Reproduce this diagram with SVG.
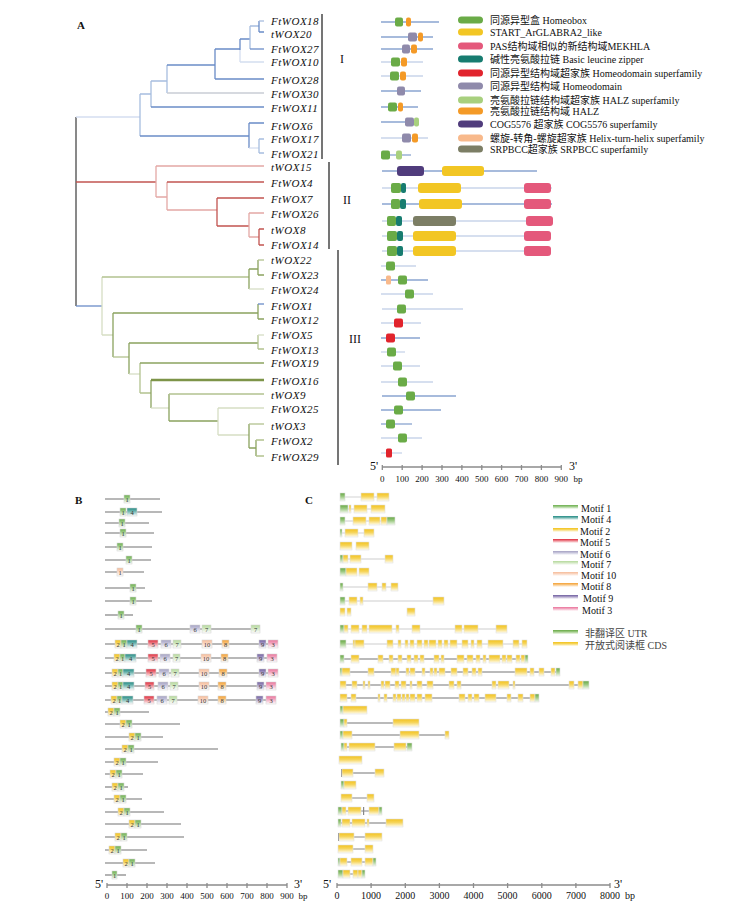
<svg xmlns="http://www.w3.org/2000/svg" width="755" height="914" viewBox="0 0 755 914">
<defs>
<style>
text{font-family:"Liberation Serif","Noto Sans CJK SC",serif;fill:#111}
.lf{font-style:italic;font-size:11px;letter-spacing:0.5px}
.cl{font-size:12px}
.pl{font-size:11px;font-weight:bold}
.lg{font-size:10px}
.tk{font-size:9px;text-anchor:middle}
.tkc{font-size:10px;text-anchor:middle}
.pr{font-size:12px}
.mn{font-size:6.5px;text-anchor:middle;fill:#333}
#tree path{fill:none;stroke-width:1.3}
.b1{stroke:#6a8cc7}.b2{stroke:#a7bddf}.b3{stroke:#d4def0}.gy{stroke:#c9ccd4}
.r1{stroke:#c25450}.r2{stroke:#e4a8a5}
.g0{stroke:#7d9448;stroke-width:2.4!important}.g1{stroke:#8ba35f}.g2{stroke:#b2c28f}.g3{stroke:#d6dec4}
.k{stroke:#4a4a4a}
.bar{stroke:#666;stroke-width:1.8;fill:none}
.dl{stroke:#8aa4d0;stroke-width:1.3}.dll{stroke:#c8d4ea;stroke-width:1.3}
.hb{fill:#6aab47}.st{fill:#f2c624}.pas{fill:#e4587b}.bz{fill:#177c70}.hds{fill:#e1242d}.hd{fill:#8f8aab}
.hzs{fill:#a8d07e}.hz{fill:#f49a27}.cog{fill:#503c7c}.hth{fill:#f8b98b}.srp{fill:#7c7e65}
.ax{stroke:#8c8c8c;stroke-width:1.3;fill:none}
.bl{stroke:#a0a0a0;stroke-width:1.6}
.il{stroke:#a3a3a3;stroke-width:1.3}.ill{stroke:#dedede;stroke-width:1.3}
.mb{stroke:#d8d8d8;stroke-width:0.6}
.ex{fill:url(#gy);stroke:#e2e2e2;stroke-width:0.6}
.ut{fill:url(#gg);stroke:#e2e2e2;stroke-width:0.6}
</style>
<linearGradient id="gy" x1="0" y1="0" x2="0" y2="1"><stop offset="0" stop-color="#f3c21c"/><stop offset="0.45" stop-color="#f6d55c"/><stop offset="1" stop-color="#fffdf2"/></linearGradient>
<linearGradient id="gg" x1="0" y1="0" x2="0" y2="1"><stop offset="0" stop-color="#66a844"/><stop offset="0.45" stop-color="#9cc982"/><stop offset="1" stop-color="#f4faf0"/></linearGradient>
<linearGradient id="m1" x1="0" y1="0" x2="0" y2="1"><stop offset="0" stop-color="#6cae4e"/><stop offset="0.4" stop-color="#9ccb86"/><stop offset="1" stop-color="#fff"/></linearGradient>
<linearGradient id="m2" x1="0" y1="0" x2="0" y2="1"><stop offset="0" stop-color="#f3c21c"/><stop offset="0.4" stop-color="#f6d55c"/><stop offset="1" stop-color="#fff"/></linearGradient>
<linearGradient id="m3" x1="0" y1="0" x2="0" y2="1"><stop offset="0" stop-color="#e9729a"/><stop offset="0.4" stop-color="#f2a5bf"/><stop offset="1" stop-color="#fff"/></linearGradient>
<linearGradient id="m4" x1="0" y1="0" x2="0" y2="1"><stop offset="0" stop-color="#228a84"/><stop offset="0.4" stop-color="#6cb3ad"/><stop offset="1" stop-color="#fff"/></linearGradient>
<linearGradient id="m5" x1="0" y1="0" x2="0" y2="1"><stop offset="0" stop-color="#df2b3b"/><stop offset="0.4" stop-color="#ec7c86"/><stop offset="1" stop-color="#fff"/></linearGradient>
<linearGradient id="m6" x1="0" y1="0" x2="0" y2="1"><stop offset="0" stop-color="#a4a1c2"/><stop offset="0.4" stop-color="#c4c2da"/><stop offset="1" stop-color="#fff"/></linearGradient>
<linearGradient id="m7" x1="0" y1="0" x2="0" y2="1"><stop offset="0" stop-color="#b4d99a"/><stop offset="0.4" stop-color="#cfe6bf"/><stop offset="1" stop-color="#fff"/></linearGradient>
<linearGradient id="m8" x1="0" y1="0" x2="0" y2="1"><stop offset="0" stop-color="#f4a032"/><stop offset="0.4" stop-color="#f8c27a"/><stop offset="1" stop-color="#fff"/></linearGradient>
<linearGradient id="m9" x1="0" y1="0" x2="0" y2="1"><stop offset="0" stop-color="#6e5e9e"/><stop offset="0.4" stop-color="#a598c4"/><stop offset="1" stop-color="#fff"/></linearGradient>
<linearGradient id="m10" x1="0" y1="0" x2="0" y2="1"><stop offset="0" stop-color="#f6bb98"/><stop offset="0.4" stop-color="#f9d3bd"/><stop offset="1" stop-color="#fff"/></linearGradient>
</defs>
<rect width="755" height="914" fill="#fff"/>

<!-- Panel labels -->
<text class="pl" x="77" y="29">A</text>
<text class="pl" x="75" y="504">B</text>
<text class="pl" x="305" y="504">C</text>

<!-- Tree connectors -->
<g id="tree">
<path class="k" d="M76 117V306"/>
<path class="b3" d="M76 117H140"/>
<path class="b2" d="M140 94V136M140 94H151"/>
<path class="b1" d="M140 136H249"/>
<path class="b2" d="M151 81V107M151 81H167"/>
<path class="b1" d="M151 107H264"/>
<path class="b2" d="M167 65V93"/>
<path class="b1" d="M167 65H215"/>
<path class="gy" d="M167 93H264"/>
<path class="b1" d="M215 49V79M215 49H240M215 79H264"/>
<path class="b1" d="M240 39V50M240 39H250"/>
<path class="b3" d="M240 50V62M240 62H264"/>
<path class="b2" d="M250 26V49M250 26H259"/>
<path class="b1" d="M250 49H264"/>
<path class="b1" d="M259 21V32M259 32H264"/>
<path class="b2" d="M259 21H264"/>
<path class="b1" d="M249 123V148M249 123H264"/>
<path class="b3" d="M249 148H259"/>
<path class="b2" d="M259 139V153M259 139H264M259 153H264"/>
<path class="r1" d="M76 182H156"/>
<path class="r2" d="M156 166V197M156 166H264M156 197H167"/>
<path class="r2" d="M167 182V210M167 210H217"/>
<path class="r1" d="M167 182H264"/>
<path class="r1" d="M217 198V226M217 198H264M217 226H249"/>
<path class="r2" d="M249 213V237M249 213H264M249 237H259"/>
<path class="r1" d="M259 229V245M259 229H264M259 245H264"/>
<path class="b1" d="M76 306H102"/>
<path class="g3" d="M102 277V335M102 335H113"/>
<path class="g2" d="M102 277H249"/>
<path class="g1" d="M249 269V289M249 269H258"/>
<path class="g3" d="M249 289H264"/>
<path class="g1" d="M258 260V275M258 275H264"/>
<path class="g2" d="M258 260H264"/>
<path class="g1" d="M113 313V357M113 313H258"/>
<path class="g2" d="M113 357H129"/>
<path class="g1" d="M258 304V319M258 319H264"/>
<path class="b1" d="M258 304H264"/>
<path class="g1" d="M129 343V374M129 343H258"/>
<path class="g3" d="M129 374H140"/>
<path class="g2" d="M258 335V349M258 349H264"/>
<path class="g3" d="M258 335H264"/>
<path class="g2" d="M140 363V393M140 393H151"/>
<path class="g1" d="M140 363H264"/>
<path class="g1" d="M151 380V408"/>
<path class="g0" d="M151 380H264"/>
<path class="g3" d="M151 408H169"/>
<path class="g1" d="M169 394V421M169 421H218"/>
<path class="g2" d="M169 394H264"/>
<path class="g3" d="M218 408V435M218 408H264M218 435H249"/>
<path class="g1" d="M249 424V448M249 448H256"/>
<path class="g2" d="M249 424H264"/>
<path class="g1" d="M256 440V456"/>
<path class="g2" d="M256 440H264M256 456H264"/>
</g>

<!-- Leaves -->
<g id="leaves">
<g id="leaf-FtWOX18"><text class="lf" x="271" y="25">FtWOX18</text></g>
<g id="leaf-tWOX20"><text class="lf" x="271" y="37.5">tWOX20</text></g>
<g id="leaf-FtWOX27"><text class="lf" x="271" y="53">FtWOX27</text></g>
<g id="leaf-FtWOX10"><text class="lf" x="271" y="66">FtWOX10</text></g>
<g id="leaf-FtWOX28"><text class="lf" x="271" y="84">FtWOX28</text></g>
<g id="leaf-FtWOX30"><text class="lf" x="271" y="98">FtWOX30</text></g>
<g id="leaf-FtWOX11"><text class="lf" x="271" y="112">FtWOX11</text></g>
<g id="leaf-FtWOX6"><text class="lf" x="271" y="130">FtWOX6</text></g>
<g id="leaf-FtWOX17"><text class="lf" x="271" y="143">FtWOX17</text></g>
<g id="leaf-FtWOX21"><text class="lf" x="271" y="158">FtWOX21</text></g>
<g id="leaf-tWOX15"><text class="lf" x="271" y="171">tWOX15</text></g>
<g id="leaf-FtWOX4"><text class="lf" x="271" y="187">FtWOX4</text></g>
<g id="leaf-FtWOX7"><text class="lf" x="271" y="203">FtWOX7</text></g>
<g id="leaf-FtWOX26"><text class="lf" x="271" y="218">FtWOX26</text></g>
<g id="leaf-tWOX8"><text class="lf" x="271" y="234">tWOX8</text></g>
<g id="leaf-FtWOX14"><text class="lf" x="271" y="249">FtWOX14</text></g>
<g id="leaf-tWOX22"><text class="lf" x="271" y="264">tWOX22</text></g>
<g id="leaf-FtWOX23"><text class="lf" x="271" y="279">FtWOX23</text></g>
<g id="leaf-FtWOX24"><text class="lf" x="271" y="294">FtWOX24</text></g>
<g id="leaf-FtWOX1"><text class="lf" x="271" y="310">FtWOX1</text></g>
<g id="leaf-FtWOX12"><text class="lf" x="271" y="324">FtWOX12</text></g>
<g id="leaf-FtWOX5"><text class="lf" x="271" y="339">FtWOX5</text></g>
<g id="leaf-FtWOX13"><text class="lf" x="271" y="354">FtWOX13</text></g>
<g id="leaf-FtWOX19"><text class="lf" x="271" y="367">FtWOX19</text></g>
<g id="leaf-FtWOX16"><text class="lf" x="271" y="385">FtWOX16</text></g>
<g id="leaf-tWOX9"><text class="lf" x="271" y="399">tWOX9</text></g>
<g id="leaf-FtWOX25"><text class="lf" x="271" y="413">FtWOX25</text></g>
<g id="leaf-tWOX3"><text class="lf" x="271" y="430">tWOX3</text></g>
<g id="leaf-FtWOX2"><text class="lf" x="271" y="445">FtWOX2</text></g>
<g id="leaf-FtWOX29"><text class="lf" x="271" y="461">FtWOX29</text></g>
</g>

<!-- Clade bars -->
<g id="clades">
<path class="bar" d="M322 14V159"/><text class="cl" x="342" y="63" text-anchor="middle">I</text>
<path class="bar" d="M329 162V249"/><text class="cl" x="347" y="204" text-anchor="middle">II</text>
<path class="bar" d="M338 250V465"/><text class="cl" x="355" y="343" text-anchor="middle">III</text>
</g>

<!-- Domain panel -->
<g id="domains">
<g id="dom-1"><path class="dl" d="M381 22H439"/><rect class="hb" x="395" y="17.5" width="8" height="9" rx="2"/><rect class="hz" x="406" y="17.5" width="5" height="9" rx="2"/></g>
<g id="dom-2"><path class="dl" d="M381 37H433"/><rect class="hd" x="408" y="32.5" width="9" height="9" rx="2"/><rect class="hz" x="418" y="32.5" width="5" height="9" rx="2"/></g>
<g id="dom-3"><path class="dl" d="M381 49H433"/><rect class="hd" x="402" y="44.5" width="8" height="9" rx="2"/><rect class="hz" x="411" y="44.5" width="6" height="9" rx="2"/></g>
<g id="dom-4"><path class="dll" d="M381 62H423"/><rect class="hb" x="391" y="57.5" width="9" height="9" rx="2"/><rect class="hz" x="401" y="57.5" width="6" height="9" rx="2"/></g>
<g id="dom-5"><path class="dll" d="M381 76H423"/><rect class="hb" x="390" y="71.5" width="9" height="9" rx="2"/><rect class="hz" x="400" y="71.5" width="6" height="9" rx="2"/></g>
<g id="dom-6"><path class="dl" d="M381 91H421"/><rect class="hd" x="397" y="86.5" width="8" height="9" rx="2"/></g>
<g id="dom-7"><path class="dl" d="M381 107H418"/><rect class="hb" x="388" y="102.5" width="9" height="9" rx="2"/><rect class="hz" x="398" y="102.5" width="5" height="9" rx="2"/></g>
<g id="dom-8"><path class="dl" d="M381 122H419"/><rect class="hd" x="405" y="117.5" width="9" height="9" rx="2"/><rect class="hzs" x="414" y="117.5" width="5" height="9" rx="2"/></g>
<g id="dom-9"><path class="dll" d="M381 138H428"/><rect class="hd" x="402" y="133.5" width="9" height="9" rx="2"/><rect class="hz" x="412" y="133.5" width="6" height="9" rx="2"/></g>
<g id="dom-10"><path class="dl" d="M381 155H411"/><rect class="hb" x="381" y="150.5" width="9" height="9" rx="2"/><rect class="hzs" x="396" y="150.5" width="6" height="9" rx="2"/></g>
<g id="dom-11"><path class="dl" d="M382 171H537"/><rect class="cog" x="397" y="166" width="27" height="10" rx="3"/><rect class="st" x="442" y="166" width="42" height="10" rx="3"/></g>
<g id="dom-12"><path class="dll" d="M382 188H552"/><rect class="hb" x="391" y="183" width="10" height="10" rx="2"/><rect class="bz" x="401" y="183" width="5" height="10" rx="2"/><rect class="st" x="418" y="183" width="43" height="10" rx="3"/><rect class="pas" x="524" y="183" width="27" height="10" rx="3"/></g>
<g id="dom-13"><path class="dl" d="M382 204H552"/><rect class="hb" x="391" y="199" width="9" height="10" rx="2"/><rect class="bz" x="400" y="199" width="6" height="10" rx="2"/><rect class="st" x="419" y="199" width="43" height="10" rx="3"/><rect class="pas" x="524" y="199" width="27" height="10" rx="3"/></g>
<g id="dom-14"><path class="dll" d="M382 221H553"/><rect class="hb" x="387" y="216" width="9" height="10" rx="2"/><rect class="bz" x="396" y="216" width="6" height="10" rx="2"/><rect class="srp" x="413" y="216" width="43" height="10" rx="3"/><rect class="pas" x="526" y="216" width="27" height="10" rx="3"/></g>
<g id="dom-15"><path class="dll" d="M382 236H551"/><rect class="hb" x="387" y="231" width="10" height="10" rx="2"/><rect class="bz" x="397" y="231" width="6" height="10" rx="2"/><rect class="st" x="413" y="231" width="43" height="10" rx="3"/><rect class="pas" x="524" y="231" width="27" height="10" rx="3"/></g>
<g id="dom-16"><path class="dll" d="M382 251H551"/><rect class="hb" x="387" y="246" width="10" height="10" rx="2"/><rect class="bz" x="397" y="246" width="6" height="10" rx="2"/><rect class="st" x="413" y="246" width="43" height="10" rx="3"/><rect class="pas" x="524" y="246" width="27" height="10" rx="3"/></g>
<g id="dom-17"><path class="dll" d="M381 266H416"/><rect class="hb" x="386" y="261.5" width="9" height="9" rx="2"/></g>
<g id="dom-18"><path class="dl" d="M381 280H428"/><rect class="hth" x="386" y="275.5" width="5" height="9" rx="1.5"/><rect class="hb" x="398" y="275.5" width="9" height="9" rx="2"/></g>
<g id="dom-19"><path class="dll" d="M381 294H433"/><rect class="hb" x="405" y="289.5" width="9" height="9" rx="2"/></g>
<g id="dom-20"><path class="dll" d="M382 309H463"/><rect class="hb" x="397" y="304.5" width="9" height="9" rx="2"/></g>
<g id="dom-21"><path class="dll" d="M381 323H421"/><rect class="hds" x="394" y="318.5" width="9" height="9" rx="2"/></g>
<g id="dom-22"><path class="dl" d="M381 338H420"/><rect class="hds" x="386" y="333.5" width="9" height="9" rx="2"/></g>
<g id="dom-23"><path class="dll" d="M381 352H405"/><rect class="hb" x="387" y="347.5" width="9" height="9" rx="2"/></g>
<g id="dom-24"><path class="dll" d="M381 366H420"/><rect class="hb" x="393" y="361.5" width="9" height="9" rx="2"/></g>
<g id="dom-25"><path class="dll" d="M381 382H433"/><rect class="hb" x="398" y="377.5" width="9" height="9" rx="2"/></g>
<g id="dom-26"><path class="dl" d="M382 396H456"/><rect class="hb" x="406" y="391.5" width="9" height="9" rx="2"/></g>
<g id="dom-27"><path class="dl" d="M381 410H441"/><rect class="hb" x="394" y="405.5" width="9" height="9" rx="2"/></g>
<g id="dom-28"><path class="dl" d="M381 424H412"/><rect class="hb" x="386" y="419.5" width="9" height="9" rx="2"/></g>
<g id="dom-29"><path class="dll" d="M381 438H422"/><rect class="hb" x="398" y="433.5" width="9" height="9" rx="2"/></g>
<g id="dom-30"><path class="dll" d="M381 453H402"/><rect class="hds" x="386" y="448.5" width="6" height="9" rx="1.5"/></g>
</g>

<!-- Axis A -->
<g id="axis-a">
<path class="ax" d="M382 467H561M382.3 465V470M402.2 465V470M422.1 465V470M442 465V470M461.9 465V470M481.8 465V470M501.6 465V470M521.5 465V470M541.4 465V470M561.3 465V470"/>
<text class="pr" x="370" y="470">5'</text><text class="pr" x="569" y="470">3'</text>
<text class="tk" x="382.3" y="482">0</text><text class="tk" x="402.2" y="482">100</text><text class="tk" x="422.1" y="482">200</text><text class="tk" x="442" y="482">300</text><text class="tk" x="461.9" y="482">400</text><text class="tk" x="481.8" y="482">500</text><text class="tk" x="501.6" y="482">600</text><text class="tk" x="521.5" y="482">700</text><text class="tk" x="541.4" y="482">800</text><text class="tk" x="561.3" y="482">900</text><text class="tk" x="578" y="482">bp</text>
</g>

<!-- Legend A -->
<g id="legend-a" class="lg">
<g id="lga-1"><rect class="hb" x="458" y="16.5" width="25" height="7" rx="3.5"/><text class="lg" x="490" y="23.5">同源异型盒 Homeobox</text></g>
<g id="lga-2"><rect class="st" x="458" y="28.5" width="25" height="7" rx="3.5"/><text class="lg" x="490" y="35.5">START_ArGLABRA2_like</text></g>
<g id="lga-3"><rect class="pas" x="458" y="42.5" width="25" height="7" rx="3.5"/><text class="lg" x="490" y="49.5">PAS结构域相似的新结构域MEKHLA</text></g>
<g id="lga-4"><rect class="bz" x="458" y="55.5" width="25" height="7" rx="3.5"/><text class="lg" x="490" y="62.5">碱性亮氨酸拉链 Basic leucine zipper</text></g>
<g id="lga-5"><rect class="hds" x="458" y="69.5" width="25" height="7" rx="3.5"/><text class="lg" x="490" y="76.5">同源异型结构域超家族 Homeodomain superfamily</text></g>
<g id="lga-6"><rect class="hd" x="458" y="82.5" width="25" height="7" rx="3.5"/><text class="lg" x="490" y="89.5">同源异型结构域 Homeodomain</text></g>
<g id="lga-7"><rect class="hzs" x="458" y="96.5" width="25" height="7" rx="3.5"/><text class="lg" x="490" y="103.5">亮氨酸拉链结构域超家族 HALZ superfamily</text></g>
<g id="lga-8"><rect class="hz" x="458" y="107.5" width="25" height="7" rx="3.5"/><text class="lg" x="490" y="114.5">亮氨酸拉链结构域 HALZ</text></g>
<g id="lga-9"><rect class="cog" x="458" y="120.5" width="25" height="7" rx="3.5"/><text class="lg" x="490" y="127.5">COG5576 超家族 COG5576 superfamily</text></g>
<g id="lga-10"><rect class="hth" x="458" y="134.5" width="25" height="7" rx="3.5"/><text class="lg" x="490" y="141.5">螺旋-转角-螺旋超家族 Helix-turn-helix superfamily</text></g>
<g id="lga-11"><rect class="srp" x="458" y="145.5" width="25" height="7" rx="3.5"/><text class="lg" x="490" y="152.5">SRPBCC超家族 SRPBCC superfamily</text></g>
</g>

<!-- Panel B: motifs -->
<g id="motifs">
<g id="mot-1"><path class="bl" d="M105 499H160"/><rect class="mb" x="124" y="495" width="6" height="8" fill="url(#m1)"/><text class="mn" x="127" y="501.5">1</text></g>
<g id="mot-2"><path class="bl" d="M105 512H162"/><rect class="mb" x="120" y="508" width="6" height="8" fill="url(#m1)"/><text class="mn" x="123" y="514.5">1</text><rect class="mb" x="127" y="508" width="10" height="8" fill="url(#m4)"/><text class="mn" x="132" y="514.5">4</text></g>
<g id="mot-3"><path class="bl" d="M105 523H149"/><rect class="mb" x="119" y="519" width="6" height="8" fill="url(#m1)"/><text class="mn" x="122" y="525.5">1</text></g>
<g id="mot-4"><path class="bl" d="M105 533H154"/><rect class="mb" x="120" y="529" width="6" height="8" fill="url(#m1)"/><text class="mn" x="123" y="535.5">1</text></g>
<g id="mot-5"><path class="bl" d="M105 547H152"/><rect class="mb" x="117" y="543" width="6" height="8" fill="url(#m1)"/><text class="mn" x="120" y="549.5">1</text></g>
<g id="mot-6"><path class="bl" d="M105 560H151"/><rect class="mb" x="126" y="556" width="6" height="8" fill="url(#m1)"/><text class="mn" x="129" y="562.5">1</text></g>
<g id="mot-7"><path class="bl" d="M105 572H144"/><rect class="mb" x="117" y="568" width="6" height="8" fill="url(#m10)"/><text class="mn" x="120" y="574.5">1</text></g>
<g id="mot-8"><path class="bl" d="M105 588H145"/><rect class="mb" x="130" y="584" width="6" height="8" fill="url(#m1)"/><text class="mn" x="133" y="590.5">1</text></g>
<g id="mot-9"><path class="bl" d="M105 601H152"/><rect class="mb" x="130" y="597" width="6" height="8" fill="url(#m1)"/><text class="mn" x="133" y="603.5">1</text></g>
<g id="mot-10"><path class="bl" d="M105 615H133"/><rect class="mb" x="118" y="611" width="6" height="8" fill="url(#m1)"/><text class="mn" x="121" y="617.5">1</text></g>
<g id="mot-11"><path class="bl" d="M105 629H260"/><rect class="mb" x="136" y="625" width="6" height="8" fill="url(#m1)"/><text class="mn" x="139" y="631.5">1</text><rect class="mb" x="190" y="625" width="10" height="8" fill="url(#m6)"/><text class="mn" x="195" y="631.5">6</text><rect class="mb" x="202" y="625" width="9" height="8" fill="url(#m7)"/><text class="mn" x="206.5" y="631.5">7</text><rect class="mb" x="251" y="625" width="9" height="8" fill="url(#m7)"/><text class="mn" x="255.5" y="631.5">7</text></g>
<g id="mot-12"><path class="bl" d="M105 644H278"/>
<rect class="mb" x="115" y="640" width="6" height="8" fill="url(#m2)"/><text class="mn" x="118" y="646.5">2</text>
<rect class="mb" x="121" y="640" width="6" height="8" fill="url(#m1)"/><text class="mn" x="124" y="646.5">1</text>
<rect class="mb" x="127" y="640" width="10" height="8" fill="url(#m4)"/><text class="mn" x="132" y="646.5">4</text>
<rect class="mb" x="148" y="640" width="10" height="8" fill="url(#m5)"/><text class="mn" x="153" y="646.5">5</text>
<rect class="mb" x="161" y="640" width="10" height="8" fill="url(#m6)"/><text class="mn" x="166" y="646.5">6</text>
<rect class="mb" x="173" y="640" width="8" height="8" fill="url(#m7)"/><text class="mn" x="177" y="646.5">7</text>
<rect class="mb" x="202" y="640" width="10" height="8" fill="url(#m10)"/><text class="mn" x="207" y="646.5">10</text>
<rect class="mb" x="222" y="640" width="7" height="8" fill="url(#m8)"/><text class="mn" x="225.5" y="646.5">8</text>
<rect class="mb" x="259" y="640" width="7" height="8" fill="url(#m9)"/><text class="mn" x="262.5" y="646.5">9</text>
<rect class="mb" x="268" y="640" width="10" height="8" fill="url(#m3)"/><text class="mn" x="273" y="646.5">3</text></g>
<g id="mot-13"><path class="bl" d="M105 658H277"/>
<rect class="mb" x="114" y="654" width="6" height="8" fill="url(#m2)"/><text class="mn" x="117" y="660.5">2</text>
<rect class="mb" x="120" y="654" width="5" height="8" fill="url(#m1)"/><text class="mn" x="122.5" y="660.5">1</text>
<rect class="mb" x="125" y="654" width="11" height="8" fill="url(#m4)"/><text class="mn" x="130.5" y="660.5">4</text>
<rect class="mb" x="148" y="654" width="10" height="8" fill="url(#m5)"/><text class="mn" x="153" y="660.5">5</text>
<rect class="mb" x="160" y="654" width="10" height="8" fill="url(#m6)"/><text class="mn" x="165" y="660.5">6</text>
<rect class="mb" x="173" y="654" width="7" height="8" fill="url(#m7)"/><text class="mn" x="176.5" y="660.5">7</text>
<rect class="mb" x="201" y="654" width="10" height="8" fill="url(#m10)"/><text class="mn" x="206" y="660.5">10</text>
<rect class="mb" x="221" y="654" width="7" height="8" fill="url(#m8)"/><text class="mn" x="224.5" y="660.5">8</text>
<rect class="mb" x="257" y="654" width="7" height="8" fill="url(#m9)"/><text class="mn" x="260.5" y="660.5">9</text>
<rect class="mb" x="267" y="654" width="10" height="8" fill="url(#m3)"/><text class="mn" x="272" y="660.5">3</text></g>
<g id="mot-14"><path class="bl" d="M105 673H278"/>
<rect class="mb" x="112" y="669" width="6" height="8" fill="url(#m2)"/><text class="mn" x="115" y="675.5">2</text>
<rect class="mb" x="118" y="669" width="5" height="8" fill="url(#m1)"/><text class="mn" x="120.5" y="675.5">1</text>
<rect class="mb" x="123" y="669" width="11" height="8" fill="url(#m4)"/><text class="mn" x="128.5" y="675.5">4</text>
<rect class="mb" x="146" y="669" width="10" height="8" fill="url(#m5)"/><text class="mn" x="151" y="675.5">5</text>
<rect class="mb" x="159" y="669" width="10" height="8" fill="url(#m6)"/><text class="mn" x="164" y="675.5">6</text>
<rect class="mb" x="171" y="669" width="8" height="8" fill="url(#m7)"/><text class="mn" x="175" y="675.5">7</text>
<rect class="mb" x="199" y="669" width="10" height="8" fill="url(#m10)"/><text class="mn" x="204" y="675.5">10</text>
<rect class="mb" x="219" y="669" width="8" height="8" fill="url(#m8)"/><text class="mn" x="223" y="675.5">8</text>
<rect class="mb" x="259" y="669" width="7" height="8" fill="url(#m9)"/><text class="mn" x="262.5" y="675.5">9</text>
<rect class="mb" x="268" y="669" width="10" height="8" fill="url(#m3)"/><text class="mn" x="273" y="675.5">3</text></g>
<g id="mot-15"><path class="bl" d="M105 686H276"/>
<rect class="mb" x="112" y="682" width="6" height="8" fill="url(#m2)"/><text class="mn" x="115" y="688.5">2</text>
<rect class="mb" x="118" y="682" width="5" height="8" fill="url(#m1)"/><text class="mn" x="120.5" y="688.5">1</text>
<rect class="mb" x="123" y="682" width="11" height="8" fill="url(#m4)"/><text class="mn" x="128.5" y="688.5">4</text>
<rect class="mb" x="145" y="682" width="9" height="8" fill="url(#m5)"/><text class="mn" x="149.5" y="688.5">5</text>
<rect class="mb" x="158" y="682" width="10" height="8" fill="url(#m6)"/><text class="mn" x="163" y="688.5">6</text>
<rect class="mb" x="170" y="682" width="8" height="8" fill="url(#m7)"/><text class="mn" x="174" y="688.5">7</text>
<rect class="mb" x="199" y="682" width="10" height="8" fill="url(#m10)"/><text class="mn" x="204" y="688.5">10</text>
<rect class="mb" x="218" y="682" width="8" height="8" fill="url(#m8)"/><text class="mn" x="222" y="688.5">8</text>
<rect class="mb" x="257" y="682" width="7" height="8" fill="url(#m9)"/><text class="mn" x="260.5" y="688.5">9</text>
<rect class="mb" x="266" y="682" width="10" height="8" fill="url(#m3)"/><text class="mn" x="271" y="688.5">3</text></g>
<g id="mot-16"><path class="bl" d="M105 700H276"/>
<rect class="mb" x="111" y="696" width="6" height="8" fill="url(#m2)"/><text class="mn" x="114" y="702.5">2</text>
<rect class="mb" x="117" y="696" width="5" height="8" fill="url(#m1)"/><text class="mn" x="119.5" y="702.5">1</text>
<rect class="mb" x="122" y="696" width="11" height="8" fill="url(#m4)"/><text class="mn" x="127.5" y="702.5">4</text>
<rect class="mb" x="144" y="696" width="10" height="8" fill="url(#m5)"/><text class="mn" x="149" y="702.5">5</text>
<rect class="mb" x="157" y="696" width="10" height="8" fill="url(#m6)"/><text class="mn" x="162" y="702.5">6</text>
<rect class="mb" x="169" y="696" width="8" height="8" fill="url(#m7)"/><text class="mn" x="173" y="702.5">7</text>
<rect class="mb" x="198" y="696" width="10" height="8" fill="url(#m10)"/><text class="mn" x="203" y="702.5">10</text>
<rect class="mb" x="218" y="696" width="8" height="8" fill="url(#m8)"/><text class="mn" x="222" y="702.5">8</text>
<rect class="mb" x="256" y="696" width="7" height="8" fill="url(#m9)"/><text class="mn" x="259.5" y="702.5">9</text>
<rect class="mb" x="266" y="696" width="10" height="8" fill="url(#m3)"/><text class="mn" x="271" y="702.5">3</text></g>
<g id="mot-17"><path class="bl" d="M105 712H149"/><rect class="mb" x="108" y="708" width="6" height="8" fill="url(#m2)"/><text class="mn" x="111" y="714.5">2</text><rect class="mb" x="114" y="708" width="6" height="8" fill="url(#m1)"/><text class="mn" x="117" y="714.5">1</text></g>
<g id="mot-18"><path class="bl" d="M105 724H180"/><rect class="mb" x="120" y="720" width="6" height="8" fill="url(#m2)"/><text class="mn" x="123" y="726.5">2</text><rect class="mb" x="126" y="720" width="6" height="8" fill="url(#m1)"/><text class="mn" x="129" y="726.5">1</text></g>
<g id="mot-19"><path class="bl" d="M105 737H163"/><rect class="mb" x="129" y="733" width="6" height="8" fill="url(#m2)"/><text class="mn" x="132" y="739.5">2</text><rect class="mb" x="135" y="733" width="6" height="8" fill="url(#m1)"/><text class="mn" x="138" y="739.5">1</text></g>
<g id="mot-20"><path class="bl" d="M105 749H218"/><rect class="mb" x="122" y="745" width="6" height="8" fill="url(#m2)"/><text class="mn" x="125" y="751.5">2</text><rect class="mb" x="128" y="745" width="6" height="8" fill="url(#m1)"/><text class="mn" x="131" y="751.5">1</text></g>
<g id="mot-21"><path class="bl" d="M105 762H158"/><rect class="mb" x="114" y="758" width="6" height="8" fill="url(#m2)"/><text class="mn" x="117" y="764.5">2</text><rect class="mb" x="120" y="758" width="6" height="8" fill="url(#m1)"/><text class="mn" x="123" y="764.5">1</text></g>
<g id="mot-22"><path class="bl" d="M105 774H143"/><rect class="mb" x="110" y="770" width="6" height="8" fill="url(#m2)"/><text class="mn" x="113" y="776.5">2</text><rect class="mb" x="116" y="770" width="6" height="8" fill="url(#m1)"/><text class="mn" x="119" y="776.5">1</text></g>
<g id="mot-23"><path class="bl" d="M105 787H128"/><rect class="mb" x="112" y="783" width="6" height="8" fill="url(#m2)"/><text class="mn" x="115" y="789.5">2</text><rect class="mb" x="118" y="783" width="6" height="8" fill="url(#m1)"/><text class="mn" x="121" y="789.5">1</text></g>
<g id="mot-24"><path class="bl" d="M105 799H142"/><rect class="mb" x="114" y="795" width="6" height="8" fill="url(#m2)"/><text class="mn" x="117" y="801.5">2</text><rect class="mb" x="120" y="795" width="6" height="8" fill="url(#m1)"/><text class="mn" x="123" y="801.5">1</text></g>
<g id="mot-25"><path class="bl" d="M105 812H164"/><rect class="mb" x="118" y="808" width="6" height="8" fill="url(#m2)"/><text class="mn" x="121" y="814.5">2</text><rect class="mb" x="124" y="808" width="6" height="8" fill="url(#m1)"/><text class="mn" x="127" y="814.5">1</text></g>
<g id="mot-26"><path class="bl" d="M105 824H181"/><rect class="mb" x="129" y="820" width="6" height="8" fill="url(#m2)"/><text class="mn" x="132" y="826.5">2</text><rect class="mb" x="135" y="820" width="6" height="8" fill="url(#m1)"/><text class="mn" x="138" y="826.5">1</text></g>
<g id="mot-27"><path class="bl" d="M105 837H184"/><rect class="mb" x="115" y="833" width="6" height="8" fill="url(#m2)"/><text class="mn" x="118" y="839.5">2</text><rect class="mb" x="121" y="833" width="6" height="8" fill="url(#m1)"/><text class="mn" x="124" y="839.5">1</text></g>
<g id="mot-28"><path class="bl" d="M105 850H147"/><rect class="mb" x="109" y="846" width="6" height="8" fill="url(#m2)"/><text class="mn" x="112" y="852.5">2</text><rect class="mb" x="115" y="846" width="6" height="8" fill="url(#m1)"/><text class="mn" x="118" y="852.5">1</text></g>
<g id="mot-29"><path class="bl" d="M105 863H155"/><rect class="mb" x="123" y="859" width="6" height="8" fill="url(#m2)"/><text class="mn" x="126" y="865.5">2</text><rect class="mb" x="129" y="859" width="6" height="8" fill="url(#m1)"/><text class="mn" x="132" y="865.5">1</text></g>
<g id="mot-30"><path class="bl" d="M105 875H126"/><rect class="mb" x="112" y="871" width="5" height="8" fill="url(#m1)"/><text class="mn" x="114.5" y="877.5">1</text></g>
</g>

<!-- Axis B -->
<g id="axis-b">
<path class="ax" d="M107 885H287M107 883V888M127 883V888M147 883V888M167 883V888M187 883V888M207 883V888M227 883V888M247 883V888M267 883V888M287 883V888"/>
<text class="pr" x="95" y="888">5'</text><text class="pr" x="294" y="888">3'</text>
<text class="tk" x="107" y="899">0</text><text class="tk" x="127" y="899">100</text><text class="tk" x="147" y="899">200</text><text class="tk" x="167" y="899">300</text><text class="tk" x="187" y="899">400</text><text class="tk" x="207" y="899">500</text><text class="tk" x="227" y="899">600</text><text class="tk" x="247" y="899">700</text><text class="tk" x="267" y="899">800</text><text class="tk" x="287" y="899">900</text><text class="tk" x="303" y="899">bp</text>
</g>

<!-- Panel C: gene structures -->
<g id="genes">
<g id="gene-1"><path class="ill" d="M345 497H377"/><rect class="ut" x="340" y="493" width="5" height="8"/><rect class="ex" x="361" y="493" width="13" height="8"/><rect class="ex" x="377" y="493" width="12" height="8"/></g>
<g id="gene-2"><path class="ill" d="M348 509H371"/><rect class="ut" x="340" y="505" width="8" height="8"/><rect class="ex" x="349" y="505" width="2" height="8"/><rect class="ex" x="354" y="505" width="13" height="8"/><rect class="ex" x="371" y="505" width="14" height="8"/></g>
<g id="gene-3"><path class="ill" d="M345 521H387"/><rect class="ut" x="340" y="517" width="5" height="8"/><rect class="ex" x="353" y="517" width="13" height="8"/><rect class="ex" x="369" y="517" width="11" height="8"/><rect class="ex" x="381" y="517" width="6" height="8"/><rect class="ut" x="387" y="517" width="8" height="8"/></g>
<g id="gene-4"><path class="ill" d="M342 533H364"/><rect class="ut" x="340" y="529" width="2" height="8"/><rect class="ex" x="345" y="529" width="13" height="8"/><rect class="ex" x="364" y="529" width="10" height="8"/></g>
<g id="gene-5"><rect class="ex" x="340" y="542" width="12" height="8"/><rect class="ex" x="356" y="542" width="13" height="8"/></g>
<g id="gene-6"><path class="ill" d="M348 559H385"/><rect class="ut" x="340" y="555" width="3" height="8"/><rect class="ex" x="343" y="555" width="5" height="8"/><rect class="ex" x="350" y="555" width="11" height="8"/><rect class="ex" x="385" y="555" width="8" height="8"/></g>
<g id="gene-7"><rect class="ut" x="340" y="568" width="6" height="8"/><rect class="ex" x="346" y="568" width="11" height="8"/><rect class="ex" x="359" y="568" width="10" height="8"/></g>
<g id="gene-8"><path class="ill" d="M343 587H391"/><rect class="ut" x="340" y="583" width="3" height="8"/><rect class="ex" x="368" y="583" width="9" height="8"/><rect class="ex" x="382" y="583" width="4" height="8"/><rect class="ex" x="391" y="583" width="7" height="8"/></g>
<g id="gene-9"><path class="ill" d="M345 601H433"/><rect class="ut" x="340" y="597" width="5" height="8"/><rect class="ex" x="349" y="597" width="8" height="8"/><rect class="ex" x="360" y="597" width="3" height="8"/><rect class="ex" x="433" y="597" width="11" height="8"/></g>
<g id="gene-10"><rect class="ex" x="340" y="608" width="5" height="8"/><rect class="ex" x="347" y="608" width="4" height="8"/><rect class="ex" x="407" y="608" width="8" height="8"/></g>
<g id="gene-11"><path class="ill" d="M348 629H496"/><rect class="ut" x="340" y="625" width="4" height="8"/><rect class="ex" x="344" y="625" width="4" height="8"/><rect class="ex" x="351" y="625" width="8" height="8"/><rect class="ex" x="362" y="625" width="5" height="8"/><rect class="ex" x="369" y="625" width="23" height="8"/><rect class="ex" x="396" y="625" width="3" height="8"/><rect class="ex" x="412" y="625" width="8" height="8"/><rect class="ex" x="455" y="625" width="7" height="8"/><rect class="ex" x="464" y="625" width="14" height="8"/><rect class="ex" x="496" y="625" width="11" height="8"/></g>
<g id="gene-12"><path class="ill" d="M346 644H522"/><rect class="ut" x="340" y="640" width="6" height="8"/><rect class="ex" x="353" y="640" width="2" height="8"/><rect class="ex" x="355" y="640" width="9" height="8"/><rect class="ex" x="387" y="640" width="6" height="8"/><rect class="ex" x="398" y="640" width="3" height="8"/><rect class="ex" x="405" y="640" width="3" height="8"/><rect class="ex" x="410" y="640" width="4" height="8"/><rect class="ex" x="417" y="640" width="5" height="8"/><rect class="ex" x="424" y="640" width="4" height="8"/><rect class="ex" x="429" y="640" width="7" height="8"/><rect class="ex" x="438" y="640" width="4" height="8"/><rect class="ex" x="444" y="640" width="4" height="8"/><rect class="ex" x="450" y="640" width="7" height="8"/><rect class="ex" x="462" y="640" width="6" height="8"/><rect class="ex" x="471" y="640" width="3" height="8"/><rect class="ex" x="477" y="640" width="5" height="8"/><rect class="ex" x="488" y="640" width="15" height="8"/><rect class="ex" x="513" y="640" width="6" height="8"/><rect class="ex" x="522" y="640" width="5" height="8"/></g>
<g id="gene-13"><path class="il" d="M344 659H525"/><rect class="ut" x="340" y="655" width="4" height="8"/><rect class="ex" x="351" y="655" width="8" height="8"/><rect class="ex" x="378" y="655" width="5" height="8"/><rect class="ex" x="389" y="655" width="4" height="8"/><rect class="ex" x="398" y="655" width="4" height="8"/><rect class="ex" x="407" y="655" width="4" height="8"/><rect class="ex" x="414" y="655" width="4" height="8"/><rect class="ex" x="420" y="655" width="4" height="8"/><rect class="ex" x="434" y="655" width="5" height="8"/><rect class="ex" x="441" y="655" width="3" height="8"/><rect class="ex" x="457" y="655" width="7" height="8"/><rect class="ex" x="467" y="655" width="6" height="8"/><rect class="ex" x="476" y="655" width="4" height="8"/><rect class="ex" x="483" y="655" width="3" height="8"/><rect class="ex" x="489" y="655" width="11" height="8"/><rect class="ex" x="502" y="655" width="4" height="8"/><rect class="ex" x="507" y="655" width="5" height="8"/><rect class="ex" x="516" y="655" width="4" height="8"/><rect class="ex" x="521" y="655" width="4" height="8"/><rect class="ut" x="525" y="655" width="3" height="8"/></g>
<g id="gene-14"><path class="il" d="M342 672H556"/><rect class="ut" x="340" y="668" width="2" height="8"/><rect class="ex" x="342" y="668" width="8" height="8"/><rect class="ex" x="368" y="668" width="6" height="8"/><rect class="ex" x="391" y="668" width="5" height="8"/><rect class="ex" x="396" y="668" width="3" height="8"/><rect class="ex" x="406" y="668" width="3" height="8"/><rect class="ex" x="410" y="668" width="5" height="8"/><rect class="ex" x="422" y="668" width="3" height="8"/><rect class="ex" x="430" y="668" width="3" height="8"/><rect class="ex" x="434" y="668" width="3" height="8"/><rect class="ex" x="439" y="668" width="6" height="8"/><rect class="ex" x="451" y="668" width="6" height="8"/><rect class="ex" x="463" y="668" width="5" height="8"/><rect class="ex" x="472" y="668" width="4" height="8"/><rect class="ex" x="478" y="668" width="4" height="8"/><rect class="ex" x="515" y="668" width="12" height="8"/><rect class="ex" x="530" y="668" width="4" height="8"/><rect class="ex" x="539" y="668" width="5" height="8"/><rect class="ex" x="551" y="668" width="4" height="8"/><rect class="ut" x="556" y="668" width="4" height="8"/></g>
<g id="gene-15"><path class="il" d="M340 685H583"/><rect class="ex" x="340" y="681" width="6" height="8"/><rect class="ex" x="352" y="681" width="5" height="8"/><rect class="ex" x="363" y="681" width="2" height="8"/><rect class="ex" x="368" y="681" width="2" height="8"/><rect class="ex" x="381" y="681" width="3" height="8"/><rect class="ex" x="385" y="681" width="5" height="8"/><rect class="ex" x="395" y="681" width="4" height="8"/><rect class="ex" x="401" y="681" width="5" height="8"/><rect class="ex" x="410" y="681" width="2" height="8"/><rect class="ex" x="417" y="681" width="5" height="8"/><rect class="ex" x="427" y="681" width="6" height="8"/><rect class="ex" x="449" y="681" width="5" height="8"/><rect class="ex" x="457" y="681" width="4" height="8"/><rect class="ex" x="492" y="681" width="4" height="8"/><rect class="ex" x="498" y="681" width="11" height="8"/><rect class="ex" x="513" y="681" width="2" height="8"/><rect class="ex" x="569" y="681" width="5" height="8"/><rect class="ex" x="578" y="681" width="5" height="8"/><rect class="ut" x="583" y="681" width="6" height="8"/></g>
<g id="gene-16"><path class="il" d="M340 698H535"/><rect class="ex" x="340" y="694" width="7" height="8"/><rect class="ex" x="351" y="694" width="5" height="8"/><rect class="ex" x="378" y="694" width="2" height="8"/><rect class="ex" x="384" y="694" width="3" height="8"/><rect class="ex" x="393" y="694" width="3" height="8"/><rect class="ex" x="397" y="694" width="4" height="8"/><rect class="ex" x="402" y="694" width="3" height="8"/><rect class="ex" x="406" y="694" width="3" height="8"/><rect class="ex" x="410" y="694" width="5" height="8"/><rect class="ex" x="417" y="694" width="5" height="8"/><rect class="ex" x="425" y="694" width="7" height="8"/><rect class="ex" x="459" y="694" width="6" height="8"/><rect class="ex" x="468" y="694" width="4" height="8"/><rect class="ex" x="474" y="694" width="5" height="8"/><rect class="ex" x="485" y="694" width="11" height="8"/><rect class="ex" x="507" y="694" width="4" height="8"/><rect class="ex" x="518" y="694" width="5" height="8"/><rect class="ex" x="530" y="694" width="5" height="8"/><rect class="ut" x="535" y="694" width="4" height="8"/></g>
<g id="gene-17"><rect class="ut" x="340" y="706" width="3" height="8"/><rect class="ex" x="343" y="706" width="24" height="8"/></g>
<g id="gene-18"><path class="il" d="M344 723H393"/><rect class="ut" x="340" y="719" width="4" height="8"/><rect class="ex" x="344" y="719" width="3" height="8"/><rect class="ex" x="393" y="719" width="26" height="8"/></g>
<g id="gene-19"><path class="il" d="M342 735H445"/><rect class="ut" x="340" y="731" width="3" height="8"/><rect class="ex" x="343" y="731" width="9" height="8"/><rect class="ex" x="400" y="731" width="19" height="8"/><rect class="ex" x="445" y="731" width="4" height="8"/></g>
<g id="gene-20"><path class="il" d="M341 747H407"/><rect class="ut" x="341" y="743" width="3" height="8"/><rect class="ex" x="344" y="743" width="3" height="8"/><rect class="ex" x="349" y="743" width="26" height="8"/><rect class="ex" x="394" y="743" width="12" height="8"/><rect class="ut" x="407" y="743" width="5" height="8"/></g>
<g id="gene-21"><rect class="ex" x="339" y="756" width="23" height="8"/></g>
<g id="gene-22"><path class="il" d="M341 773H375"/><rect x="341" y="769" width="1.2" height="8" fill="#888"/><rect class="ex" x="342" y="769" width="11" height="8"/><rect class="ex" x="375" y="769" width="9" height="8"/></g>
<g id="gene-23"><rect class="ut" x="341" y="781" width="3" height="8"/><rect class="ex" x="344" y="781" width="12" height="8"/></g>
<g id="gene-24"><path class="il" d="M341 798H367"/><rect class="ex" x="341" y="794" width="11" height="8"/><rect class="ex" x="367" y="794" width="7" height="8"/></g>
<g id="gene-25"><path class="il" d="M338 811H369"/><rect class="ut" x="338" y="807" width="4" height="8"/><rect class="ex" x="342" y="807" width="4" height="8"/><rect class="ex" x="348" y="807" width="13" height="8"/><rect x="363" y="807" width="1.2" height="8" fill="#888"/><rect class="ex" x="369" y="807" width="10" height="8"/><rect class="ut" x="379" y="807" width="3" height="8"/></g>
<g id="gene-26"><path class="il" d="M338 823H386"/><rect class="ut" x="338" y="819" width="3" height="8"/><rect class="ex" x="342" y="819" width="8" height="8"/><rect class="ex" x="352" y="819" width="13" height="8"/><rect class="ex" x="367" y="819" width="2" height="8"/><rect class="ex" x="386" y="819" width="17" height="8"/></g>
<g id="gene-27"><path class="il" d="M338 837H365"/><rect x="338" y="833" width="1.2" height="8" fill="#888"/><rect class="ex" x="339" y="833" width="15" height="8"/><rect class="ex" x="365" y="833" width="17" height="8"/></g>
<g id="gene-28"><path class="il" d="M338 849H365"/><rect class="ex" x="338" y="845" width="15" height="8"/><rect class="ex" x="365" y="845" width="8" height="8"/></g>
<g id="gene-29"><path class="il" d="M338 862H365"/><rect class="ut" x="338" y="858" width="2" height="8"/><rect class="ex" x="340" y="858" width="7" height="8"/><rect class="ex" x="351" y="858" width="11" height="8"/><rect class="ex" x="365" y="858" width="8" height="8"/><rect class="ut" x="373" y="858" width="3" height="8"/></g>
<g id="gene-30"><path class="il" d="M338 874H362"/><rect class="ut" x="338" y="870" width="5" height="8"/><rect class="ex" x="343" y="870" width="7" height="8"/><rect class="ex" x="353" y="870" width="5" height="8"/><rect class="ex" x="358" y="870" width="4" height="8"/><rect class="ut" x="362" y="870" width="3" height="8"/></g>
</g>

<!-- Axis C -->
<g id="axis-c">
<path class="ax" d="M337 885H610M337 883V888M371.1 883V888M405.3 883V888M439.4 883V888M473.5 883V888M507.6 883V888M541.8 883V888M575.9 883V888M610 883V888"/>
<text class="pr" x="323" y="888">5'</text><text class="pr" x="614" y="888">3'</text>
<text class="tkc" x="337" y="899">0</text><text class="tkc" x="371.1" y="899">1000</text><text class="tkc" x="405.3" y="899">2000</text><text class="tkc" x="439.4" y="899">3000</text><text class="tkc" x="473.5" y="899">4000</text><text class="tkc" x="507.6" y="899">5000</text><text class="tkc" x="541.8" y="899">6000</text><text class="tkc" x="575.9" y="899">7000</text><text class="tkc" x="610" y="899">8000</text><text class="tkc" x="630" y="899">bp</text>
</g>

<!-- Legend C -->
<g id="legend-c">
<g id="lgc-1"><rect x="553" y="505" width="25" height="4" fill="url(#m1)"/><text class="lg" x="581" y="511.5">Motif 1</text></g>
<g id="lgc-4"><rect x="553" y="516" width="25" height="4" fill="url(#m4)"/><text class="lg" x="581" y="522.5">Motif 4</text></g>
<g id="lgc-2"><rect x="553" y="528" width="25" height="4" fill="url(#m2)"/><text class="lg" x="580" y="534.5">Motif 2</text></g>
<g id="lgc-5"><rect x="553" y="539" width="25" height="4" fill="url(#m5)"/><text class="lg" x="580" y="545.5">Motif 5</text></g>
<g id="lgc-6"><rect x="553" y="551" width="25" height="4" fill="url(#m6)"/><text class="lg" x="580" y="557.5">Motif 6</text></g>
<g id="lgc-7"><rect x="553" y="561" width="25" height="4" fill="url(#m7)"/><text class="lg" x="581" y="567.5">Motif 7</text></g>
<g id="lgc-10"><rect x="553" y="572" width="25" height="4" fill="url(#m10)"/><text class="lg" x="581" y="578.5">Motif 10</text></g>
<g id="lgc-8"><rect x="553" y="583" width="25" height="4" fill="url(#m8)"/><text class="lg" x="581" y="589.5">Motif 8</text></g>
<g id="lgc-9"><rect x="553" y="595" width="25" height="4" fill="url(#m9)"/><text class="lg" x="583" y="601.5">Motif 9</text></g>
<g id="lgc-3"><rect x="553" y="607" width="25" height="4" fill="url(#m3)"/><text class="lg" x="582" y="613.5">Motif 3</text></g>
<g id="lgc-utr"><rect x="553" y="630" width="25" height="4" fill="url(#gg)"/><text class="lg" x="585" y="636.5" style="fill:#444">非翻译区 UTR</text></g>
<g id="lgc-cds"><rect x="553" y="642" width="25" height="4" fill="url(#gy)"/><text class="lg" x="585" y="648.5" style="fill:#444">开放式阅读框 CDS</text></g>
</g>
</svg>
